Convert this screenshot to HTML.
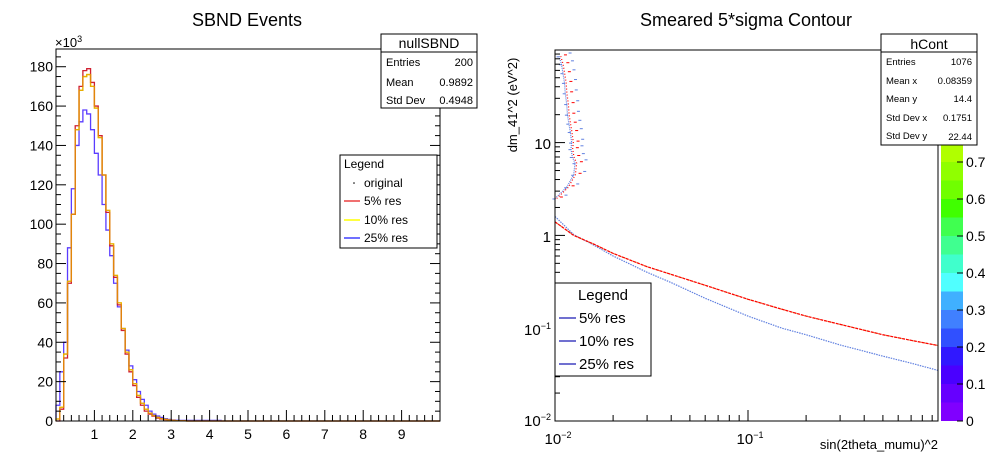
<!DOCTYPE html>
<html><head><meta charset="utf-8"><style>
html,body{margin:0;padding:0;background:#fff;}
svg{display:block;font-family:"Liberation Sans",sans-serif;}
</style></head><body>
<svg id="c" width="998" height="475" viewBox="0 0 998 475">
<rect width="998" height="475" fill="#fff"/>
<text x="247" y="26" font-size="18" text-anchor="middle">SBND Events</text>
<text x="746" y="26" font-size="18" text-anchor="middle">Smeared 5*sigma Contour</text>
<g id="L"></g>
<g id="R"></g>
</svg>
<script>
// ---- Left histogram data (bin width 0.1, starting at 0) ----
const binStarts = [0,0.1,0.2,0.3,0.4,0.5,0.6,0.7,0.8,0.9,1.0,1.1,1.2,1.3,1.4,1.5,1.6,1.7,1.8,1.9,2.0,2.1,2.2,2.3,2.4,2.5,2.6,2.7,2.8,2.9,3.0,3.1,3.2,3.3,3.4,3.5,3.6,3.7,3.8,3.9,4.0,4.1,4.2];
const origVals = [0,6,32,70,105,150,170,178,179,172,160,145,125,106,89,73,59,46,34,25,18,12,8,5,3.5,2.5,1.5,1,0.7,0.5,0.3,0.2,0.1,0.1,0,0,0,0,0,0,0,0,0];
const res5Vals = [0,6,32,70,105,150,170,178,179,172,160,145,125,106,89,73,59,46,34,25,18,12,8,5,3.5,2.5,1.5,1,0.7,0.5,0.3,0.2,0.1,0.1,0,0,0,0,0,0,0,0,0];
const res10Vals = [1,7,34,71,105,148,168,175,176,170,159,144,125,107,90,74,60,47,35,26,19,13,9,6,4,2.8,1.8,1.2,0.8,0.5,0.3,0.2,0.1,0.1,0,0,0,0,0,0,0,0,0];
const res25Vals = [8,25,40,88,118,140,152,158,156,148,136,125,110,97,84,70,58,47,36,28,21,15,11,8,5,3.5,2.5,1.8,1.2,0.8,0.5,0.4,0.3,0.3,0.3,0.3,0.3,0.3,0.3,0.3,0.3,0.3,0.3];
const yTickVals = [0,20,40,60,80,100,120,140,160,180];
const xTickVals = [1,2,3,4,5,6,7,8,9];

// ---- Right contour data ----
const cx5 = [0.01,0.0125,0.016,0.02,0.03,0.04,0.06,0.1,0.15,0.2,0.3,0.5,0.7,0.97];
const cy5 = [1.4,1.0,0.8,0.64,0.46,0.38,0.29,0.205,0.16,0.135,0.11,0.085,0.074,0.065];
const cx25 = [0.01,0.0125,0.016,0.02,0.03,0.04,0.06,0.1,0.15,0.2,0.3,0.5,0.7,0.97];
const cy25 = [1.6,1.02,0.78,0.6,0.4,0.31,0.21,0.135,0.1,0.085,0.066,0.05,0.042,0.035];
const upX = [0.01,0.0115,0.0125,0.0127,0.0123,0.0121,0.0122,0.012,0.0118,0.0116,0.0115,0.0113,0.0112,0.011,0.0108,0.0105];
const upY = [2.5,3.3,4.5,6,7,8.5,10,13,16,20,26,34,44,56,70,85];
const palVals = [0,0.05,0.1,0.15,0.2,0.25,0.3,0.35,0.4,0.45,0.5,0.55,0.6,0.65,0.7,0.75];
const palCols = ["#8000ff","#6600ff","#4a00ff","#3018ff","#3050ff","#4080ff","#40b0ff","#50ffff","#40ffcc","#40ff90","#40ff50","#40ff00","#70ff00","#90ff00","#b0ff00","#d8ff00"];
const palLabels = [0,0.1,0.2,0.3,0.4,0.5,0.6,0.7];

const NS="http://www.w3.org/2000/svg";
function mk(tag,attrs,parent){const e=document.createElementNS(NS,tag);for(const k in attrs)e.setAttribute(k,attrs[k]);parent.appendChild(e);return e;}

// Left axes
const L=document.getElementById('L');
const lx0=56,lx1=440,ly0=421,ly1=49;
const lxs=v=>lx0+(v/10)*(lx1-lx0);
const lys=v=>ly0-(v/189)*(ly0-ly1);
function hist(vals,color,name){
  let d=`M${lxs(0)},${lys(0)}`;
  vals.forEach((v,i)=>{const a=lxs(binStarts[i]),b=lxs(binStarts[i]+0.1);d+=` L${a},${lys(v)} L${b},${lys(v)}`;});
  d+=` L${lxs(binStarts[binStarts.length-1]+0.1)},${lys(0)} L${lxs(10)},${lys(0)}`;
  const p=mk('path',{d:d,fill:'none',stroke:color,'stroke-width':1.3},L);
  
  
}
hist(res25Vals,'#5a3cff','hist-25pct');
hist(res10Vals,'#f0e000','hist-10pct');
hist(origVals,'#d02030','hist-5pct');
hist(res10Vals,'rgba(230,160,0,0.8)','hist-10pct-overlay');
const lf=mk('rect',{x:lx0,y:ly1,width:lx1-lx0,height:ly0-ly1,fill:'none',stroke:'#000','stroke-width':1},L);


for(let v=0;v<=185;v+=5){const y=lys(v);const big=v%20===0;mk('line',{x1:lx0,x2:lx0+(big?10:5),y1:y,y2:y,stroke:'#000'},L);mk('line',{x1:lx1,x2:lx1-(big?10:5),y1:y,y2:y,stroke:'#000'},L);}
yTickVals.forEach(v=>{const t=mk('text',{x:lx0-3,y:lys(v)+5,'font-size':14,'text-anchor':'end'},L);t.textContent=v;

});
for(let v=0.2;v<10;v+=0.2){const x=lxs(v);const big=Math.abs(v-Math.round(v))<0.01;mk('line',{x1:x,x2:x,y1:ly0,y2:ly0-(big?11:6),stroke:'#000'},L);}
xTickVals.forEach(v=>{const t=mk('text',{x:lxs(v),y:ly0+18,'font-size':14,'text-anchor':'middle'},L);t.textContent=v;

});
const e3=mk('text',{x:55,y:47,'font-size':13},L);e3.innerHTML='×10<tspan font-size="9" dy="-5">3</tspan>';


L.insertAdjacentHTML('beforeend',`
<g>
<rect x="381" y="34" width="96" height="74" fill="#fff" stroke="#000"/>
<line x1="381" y1="52" x2="477" y2="52" stroke="#000"/>
<text x="429" y="48" font-size="14" text-anchor="middle">nullSBND</text>
<text x="386" y="66" font-size="11">Entries</text><text x="473" y="66" font-size="11" text-anchor="end">200</text>
<text x="386" y="86" font-size="11">Mean</text><text x="473" y="86" font-size="11" text-anchor="end">0.9892</text>
<text x="386" y="104" font-size="11">Std Dev</text><text x="473" y="104" font-size="11" text-anchor="end">0.4948</text>
</g>
<g>
<rect x="340" y="155" width="97" height="93" fill="#fff" stroke="#000"/>
<text x="344" y="168" font-size="12">Legend</text>
<circle cx="354" cy="183" r="0.8" fill="#000"/><text x="364" y="187" font-size="12">original</text>
<line x1="344" y1="201" x2="360" y2="201" stroke="#f07070" stroke-width="2"/><text x="364" y="205" font-size="12">5% res</text>
<line x1="344" y1="220" x2="360" y2="220" stroke="#ffff40" stroke-width="2"/><text x="364" y="224" font-size="12">10% res</text>
<line x1="344" y1="238" x2="360" y2="238" stroke="#7070ff" stroke-width="2"/><text x="364" y="242" font-size="12">25% res</text>
</g>`);

// Right axes
const R=document.getElementById('R');
const rx0=555,rx1=938,ry0=421,ry1=50;
const rxs=v=>rx0+(Math.log10(v)+2)*193;
const rys=v=>ry0-(Math.log10(v)+2)*92.8;
function curve(xs,ys,color,name,dash){
  const d=xs.map((x,i)=>(i?'L':'M')+rxs(x)+','+rys(ys[i])).join(' ');
  const p=mk('path',{d:d,fill:'none',stroke:color,'stroke-width':1.2,'stroke-dasharray':dash},R);
  
  
}
curve(cx25,cy25,'#6080e0','contour-25pct','1.5 1');
curve(cx5,cy5,'#e0a060','contour-10pct','2 1');
curve(cx5,cy5,'#ff0000','contour-5pct','3 1');
curve(upX,upY,'#6080e0','upper-contour-blue','1 1');
curve(upX.map(x=>x*1.02),upY,'#ff0000','upper-contour-red','1 2');
upY.forEach((y,i)=>{[0.97,1.06,1.12].forEach((f,j)=>{const r=mk('rect',{x:rxs(upX[i]*f),y:rys(y*(1+0.05*j)),width:3,height:1,fill:j===1?'#ff0000':'#6080e0'},R);

});});
const rf=mk('rect',{x:rx0,y:ry1,width:rx1-rx0,height:ry0-ry1,fill:'none',stroke:'#000','stroke-width':1},R);


for(let e=-2;e<2;e++)for(let m=1;m<10;m++){const v=m*Math.pow(10,e);const y=rys(v);if(y<ry1)continue;mk('line',{x1:rx0,x2:rx0+(m===1?10:5),y1:y,y2:y,stroke:'#000'},R);}
for(let e=-2;e<0;e++)for(let m=1;m<10;m++){const v=m*Math.pow(10,e);const x=rxs(v);if(x>rx1)continue;mk('line',{x1:x,x2:x,y1:ry0,y2:ry0-(m===1?11:6),stroke:'#000'},R);}
R.insertAdjacentHTML('beforeend',`
<g font-size="15" text-anchor="end">
<text x="551" y="426">10<tspan font-size="9" dy="-6">−2</tspan></text>
<text x="551" y="335">10<tspan font-size="9" dy="-6">−1</tspan></text>
<text x="551" y="242">1</text>
<text x="551" y="149">10</text>
</g>
<g font-size="15" text-anchor="middle">
<text x="558" y="444">10<tspan font-size="9" dy="-6">−2</tspan></text>
<text x="750" y="444">10<tspan font-size="9" dy="-6">−1</tspan></text>
</g>
<text x="938" y="449" font-size="13" text-anchor="end">sin(2theta_mumu)^2</text>
<text transform="translate(517,105) rotate(-90)" font-size="13" text-anchor="middle">dm_41^2 (eV^2)</text>
<g>
<rect x="555" y="283" width="96" height="93" fill="#fff" stroke="#000"/>
<text x="603" y="300" font-size="15" text-anchor="middle">Legend</text>
<line x1="559" y1="318" x2="576" y2="318" stroke="#7070d0" stroke-width="2"/><text x="579" y="323" font-size="15">5% res</text>
<line x1="559" y1="341" x2="576" y2="341" stroke="#7070d0" stroke-width="2"/><text x="579" y="346" font-size="15">10% res</text>
<line x1="559" y1="364" x2="576" y2="364" stroke="#7070d0" stroke-width="2"/><text x="579" y="369" font-size="15">25% res</text>
</g>`);
const ps=v=>421-v*370;
palVals.forEach((v,i)=>{const r=mk('rect',{x:941,y:ps(v+0.05),width:22,height:ps(v)-ps(v+0.05),fill:palCols[i]},R);

});
palLabels.forEach(v=>{const y=ps(v);mk('line',{x1:957,x2:963,y1:y,y2:y,stroke:'#000'},R);const t=mk('text',{x:966,y:y+5,'font-size':14},R);t.textContent=v;

});
R.insertAdjacentHTML('beforeend',`
<text x="966" y="92" font-size="14">9</text>
<text x="966" y="129" font-size="14">8</text>
<g>
<rect x="881" y="34" width="96" height="111" fill="#fff" stroke="#000"/>
<line x1="881" y1="52" x2="977" y2="52" stroke="#000"/>
<text x="929" y="49" font-size="14" text-anchor="middle">hCont</text>
<text x="886" y="65" font-size="9.5">Entries</text><text x="972" y="65" font-size="9.5" text-anchor="end">1076</text>
<text x="886" y="84" font-size="9.5">Mean x</text><text x="972" y="84" font-size="9.5" text-anchor="end">0.08359</text>
<text x="886" y="102" font-size="9.5">Mean y</text><text x="972" y="102" font-size="9.5" text-anchor="end">14.4</text>
<text x="886" y="121" font-size="9.5">Std Dev x</text><text x="972" y="121" font-size="9.5" text-anchor="end">0.1751</text>
<text x="886" y="139" font-size="9.5">Std Dev y</text><text x="972" y="140" font-size="9.5" text-anchor="end">22.44</text>
</g>`);
</script>
</body></html>
